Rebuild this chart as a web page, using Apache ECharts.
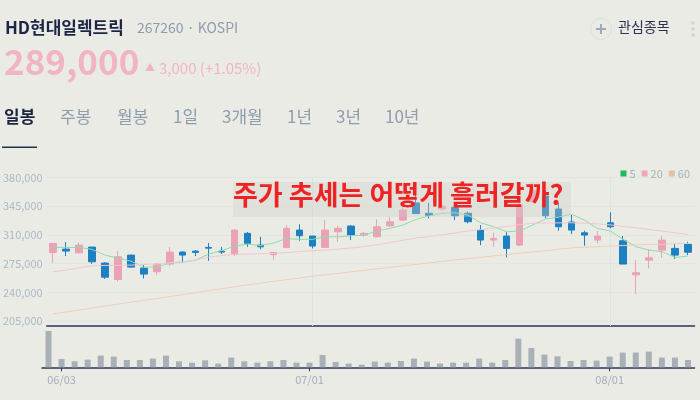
<!DOCTYPE html>
<html><head><meta charset="utf-8">
<script src="https://cdn.jsdelivr.net/npm/echarts@6/dist/echarts.min.js"></script>
<style>html,body{margin:0;padding:0;background:#ebebe6}#c{width:700px;height:400px}</style>
</head><body><div id="c"></div>
<script>
const dates = ['05/31','06/03','06/04','06/05','06/07','06/10','06/11','06/12','06/13','06/14','06/17','06/18','06/19','06/20','06/21','06/24','06/25','06/26','06/27','06/28',
 '07/01','07/02','07/03','07/04','07/05','07/08','07/09','07/10','07/11','07/12','07/15','07/16','07/17','07/18','07/19','07/22','07/23','07/24','07/25','07/26','07/29','07/30','07/31',
 '08/01','08/02','08/05','08/06','08/07','08/08','08/09'];
const tickLabels = ['06/03','07/01','08/01'];
const monthStarts = ['07/01','08/01'];
const opens  = [288800,292800,288300,295300,275800,255900,285500,269700,265200,274600,289200,290400,294900,290400,286400,312000,297700,285900,294900,316000,308700,294900,313900,320900,309900,307800,321200,328200,349000,336400,341600,343700,336400,316000,303800,308700,297700,350500,357500,341600,325800,312700,303800,324900,303000,261500,279400,291600,293700,298600];
const closes = [299800,290400,297700,277400,258700,283500,270900,262400,274600,289200,285500,288800,294000,289200,316000,299800,295600,288800,318100,309100,296500,316000,318100,309900,312000,320000,326100,340400,336100,333900,345300,333400,326100,303800,305900,293700,346500,364800,333400,320000,316000,309900,308700,320000,274600,264000,282200,303800,285500,289000];
const lows   = [276100,284300,287600,274900,256600,253000,270500,257100,261200,272500,276600,284300,278600,286800,284300,295600,292500,279400,293700,303000,293700,294900,301700,303800,307800,307100,320000,327000,335500,330300,340000,328200,324200,297700,295600,282700,296500,350100,330300,315200,311100,296900,299800,318100,274600,237600,269300,282200,280700,285500];
const highs  = [299900,301400,301000,295500,277000,290400,285800,273300,275800,295300,290400,291600,300200,295600,316900,313600,307800,289200,322100,323000,308700,328200,320900,322100,313900,329000,331500,343700,362700,349300,348600,346500,338300,322100,312700,313900,349000,372900,364800,349300,334300,315200,314800,337600,308700,279400,292800,309100,298900,301700];
const volumes = [1815000,415000,300000,385000,585000,535000,365000,365000,435000,585000,300000,235000,350000,185000,485000,300000,235000,300000,365000,235000,235000,615000,265000,185000,135000,285000,235000,315000,435000,285000,185000,235000,235000,435000,235000,365000,1435000,965000,635000,550000,315000,365000,335000,535000,735000,735000,785000,485000,485000,365000];
const ma5  = [294900,294900,294900,292500,285500,281900,278200,270900,270900,275800,277000,279400,286800,291000,296500,298900,297100,300200,305600,304700,304700,307800,307800,309100,309900,314800,318100,322100,329000,333100,336400,337100,334300,324900,320000,313900,314800,322100,329400,331500,335500,328200,318100,314800,304700,295600,291600,289600,282700,284300];
const ma20 = [265200,267200,270100,272500,273000,273000,273300,274200,274600,276100,277400,279400,283100,284900,286400,286800,287100,287600,288600,289800,290800,291600,292800,294100,295900,298100,300800,303600,306300,308100,310300,312400,314800,316600,318400,320300,322700,324200,324500,324800,324900,324300,323600,322300,320300,318700,316600,314800,312600,310800];
const ma60 = [214000,216300,218700,221000,223400,225800,228100,230400,232700,235000,237400,239800,242200,244600,246900,249300,251400,253500,255600,257600,259700,261500,263300,265100,267000,268800,270600,272400,274200,276000,277900,279500,281200,282800,284500,286100,287800,289400,291000,292700,294300,295100,295800,296500,297200,298000,298400,298800,299300,299800];
const priceTicks = [205000,240000,275000,310000,345000,380000];
const tabs = ['일봉','주봉','월봉','1일','3개월','1년','3년','10년'];
const tabX = [4,60,117,173,222,287,336,385];

const candle = dates.map((d,i)=>[opens[i],closes[i],lows[i],highs[i]]);
const FONT = '"Noto Sans CJK KR","Noto Sans",sans-serif';
const chart = echarts.init(document.getElementById('c'), null, {renderer:'canvas'});
const fmt = v => v.toLocaleString('en-US');

const graphics = [
  {type:'text', left:5, top:19, style:{text:'HD현대일렉트릭', font:'bold 17px '+FONT, fill:'#1c2544'}},
  {type:'text', left:137, top:21, style:{text:'267260 · KOSPI', font:'14px '+FONT, fill:'#8d9dac'}},
  {type:'text', left:4, top:44, style:{text:'289,000', font:'bold 35px '+FONT, fill:'#f0b4c3'}},
  {type:'text', left:145, top:62, style:{text:'▲', font:'10px '+FONT, fill:'#f0b4c3'}},
  {type:'text', left:159, top:61, style:{text:'3,000 (+1.05%)', font:'15px '+FONT, fill:'#f0b4c3'}},
  {type:'circle', shape:{cx:601, cy:29, r:10.5}, style:{fill:'none', stroke:'#d6e2e2', lineWidth:1}},
  {type:'line', shape:{x1:596, y1:29, x2:606, y2:29}, style:{stroke:'#9eabbb', lineWidth:2}},
  {type:'line', shape:{x1:601, y1:24, x2:601, y2:34}, style:{stroke:'#9eabbb', lineWidth:2}},
  {type:'text', left:618, top:20, style:{text:'관심종목', font:'14px '+FONT, fill:'#2a3452'}},
  {type:'circle', shape:{cx:693, cy:23, r:1.8}, style:{fill:'#c9d4dc'}},
  {type:'circle', shape:{cx:693, cy:29, r:1.8}, style:{fill:'#c9d4dc'}},
  {type:'circle', shape:{cx:693, cy:35, r:1.8}, style:{fill:'#c9d4dc'}},
  {type:'rect', shape:{x:2, y:146.5, width:35, height:1.6}, style:{fill:'#25304f'}},
  {type:'rect', z:100, shape:{x:233, y:182, width:338, height:35}, style:{fill:'rgba(205,205,200,0.35)'}},
  {type:'text', z:101, left:233, top:181, style:{text:'주가 추세는 어떻게 흘러갈까?', font:'bold 27px '+FONT, fill:'#ee2424'}}
];
tabs.forEach((t,i)=>graphics.push({type:'text', left:tabX[i], top:108,
  style:{text:t, font:(i===0?'bold ':'')+'17px '+FONT, fill:i===0?'#1c2544':'#8d9dac'}}));

const showTick = (idx, val) => tickLabels.indexOf(val) >= 0;

chart.setOption({
  backgroundColor:'#ebebe6',
  animation:false,
  textStyle:{fontFamily:FONT},
  graphic:graphics,
  legend:{data:['5','20','60'], right:5, top:163, icon:'rect', itemWidth:6, itemHeight:6, itemGap:6,
    textStyle:{color:'#a3b1bd', fontSize:11, padding:[0,0,0,-2]}},
  grid:[
    {left:42, right:5.5, top:177.5, height:148.5},
    {left:42, right:5.5, top:327.3, height:40}
  ],
  xAxis:[
    {type:'category', data:dates, gridIndex:0, boundaryGap:true,
     axisLine:{lineStyle:{color:'#2a3658', width:1.5}}, axisTick:{show:false}, axisLabel:{show:false},
     splitLine:{show:false}},
    {type:'category', data:dates, gridIndex:1, boundaryGap:true,
     axisLine:{lineStyle:{color:'#2a3658', width:1.5}},
     axisTick:{show:true, interval:showTick, alignWithLabel:true, length:4, lineStyle:{color:'#2a3658'}},
     axisLabel:{interval:showTick, color:'#a0b0bc', fontSize:11, margin:7}}
  ],
  yAxis:[
    {type:'value', gridIndex:0, min:199200, max:380000, scale:true,
     axisLine:{show:false}, axisTick:{show:false, customValues:priceTicks},
     axisLabel:{customValues:priceTicks, formatter:fmt, color:'#aabac4', fontSize:11, margin:4},
     splitLine:{show:true, lineStyle:{color:'#e2e6e2'}}},
    {type:'value', gridIndex:1, min:0, max:2000000, axisLine:{show:false}, axisTick:{show:false},
     axisLabel:{show:false}, splitLine:{show:false}}
  ],
  series:[
    {type:'candlestick', name:'price', xAxisIndex:0, yAxisIndex:0, data:candle, barWidth:7,
     itemStyle:{color:'#eaa2b5', color0:'#1c80c2', borderColor:'#eaa2b5', borderColor0:'#1c80c2', borderWidth:1},
     markLine:{silent:true, symbol:'none', label:{show:false}, z:1,
       lineStyle:{color:'#d9e4e6', width:1, type:'solid'},
       data:monthStarts.map(d=>({xAxis:d}))}},
    {type:'line', name:'5', data:ma5, showSymbol:false, smooth:false, z:3,
     itemStyle:{color:'#1fb85a'}, lineStyle:{color:'#8fdcaa', width:1}},
    {type:'line', name:'20', data:ma20, showSymbol:false, z:3,
     itemStyle:{color:'#f0a6b8'}, lineStyle:{color:'#f1c7cf', width:1}},
    {type:'line', name:'60', data:ma60, showSymbol:false, z:3,
     itemStyle:{color:'#e2c0a2'}, lineStyle:{color:'#ecd0bb', width:1}},
    {type:'bar', name:'vol', xAxisIndex:1, yAxisIndex:1, data:volumes, barWidth:6,
     itemStyle:{color:'#a9b0b6'}}
  ]
});
</script></body></html>
